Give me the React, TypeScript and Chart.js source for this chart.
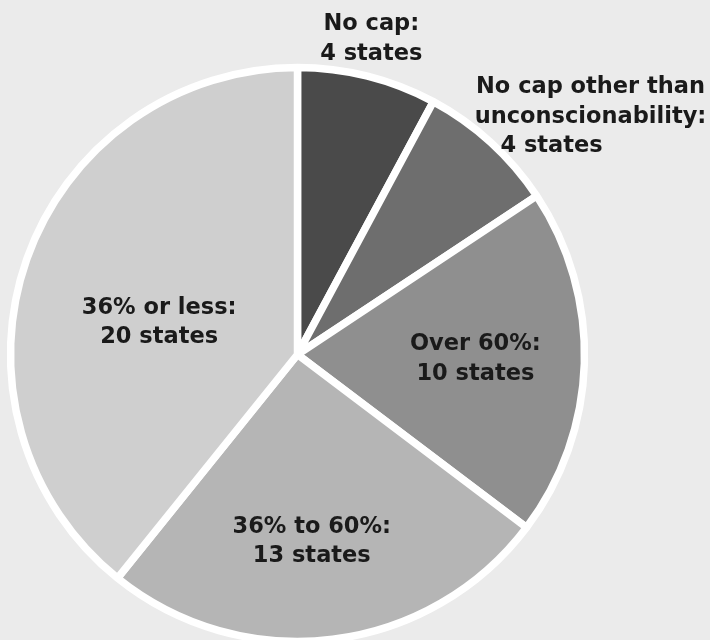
import React, { useEffect, useRef } from "react";
import { Chart, registerables } from "chart.js";

Chart.register(...registerables);

const categories = [
  "No cap",
  "No cap other than unconscionability",
  "Over 60%",
  "36% to 60%",
  "36% or less",
];
const stateCounts = [4, 4, 10, 13, 20];
const labelLines = [
  ["No cap:", "4 states"],
  ["No cap other than", "unconscionability:", "4 states"],
  ["Over 60%:", "10 states"],
  ["36% to 60%:", "13 states"],
  ["36% or less:", "20 states"],
];
const sliceColors = ["#4a4a4a", "#6e6e6e", "#8f8f8f", "#b5b5b5", "#cfcfcf"];

// label placement styles: radial fraction + pixel nudge, per-line x shifts
const labelStyle = [
  { f: 1.14, dx: -6, dy: 2, shifts: [0, 0] },
  { f: 1.2, dx: 61, dy: 17, shifts: [0, 0, -39] },
  { f: 0.627, dx: -2, dy: -1, shifts: [0, 0] },
  { f: 0.66, dx: -9, dy: -1, shifts: [0, 0] },
  { f: 0.5, dx: -3, dy: 16, shifts: [0, 0] },
];

const labelPlugin = {
  id: "sliceLabels",
  afterDatasetsDraw(chart: any) {
    const ctx = chart.ctx;
    const meta = chart.getDatasetMeta(0);
    ctx.save();
    ctx.font = "bold 22.5px 'DejaVu Sans'";
    ctx.fillStyle = "#1a1a1a";
    ctx.textAlign = "center";
    ctx.textBaseline = "middle";
    const lh = 29.5;
    meta.data.forEach((arc: any, i: number) => {
      const p = arc.getProps(["x", "y", "startAngle", "endAngle", "outerRadius"], true);
      const mid = (p.startAngle + p.endAngle) / 2;
      const st = labelStyle[i];
      const cx = p.x + Math.cos(mid) * p.outerRadius * st.f + st.dx;
      const cy = p.y + Math.sin(mid) * p.outerRadius * st.f + st.dy;
      const lines = labelLines[i];
      const top = cy - ((lines.length - 1) * lh) / 2;
      lines.forEach((t, j) => {
        ctx.fillText(t, cx + (st.shifts[j] || 0), top + j * lh);
      });
    });
    ctx.restore();
  },
};

export default function App() {
  const ref = useRef<HTMLCanvasElement>(null);
  useEffect(() => {
    if (!ref.current) return;
    const chart = new Chart(ref.current, {
      type: "pie",
      data: {
        labels: categories,
        datasets: [
          {
            data: stateCounts,
            backgroundColor: sliceColors,
            borderColor: "#ffffff",
            borderWidth: 7.5,
          },
        ],
      },
      options: {
        responsive: false,
        animation: false,
        radius: 287,
        layout: { padding: { left: 0, right: 115, top: 69, bottom: 0 } },
        plugins: {
          legend: { display: false },
          tooltip: { enabled: false },
        },
      } as any,
      plugins: [labelPlugin],
    });
    return () => chart.destroy();
  }, []);
  return (
    <div
      style={{
        position: "fixed",
        left: 0,
        top: 0,
        width: 710,
        height: 640,
        background: "#ebebeb",
      }}
    >
      <canvas ref={ref} width={710} height={640} style={{ display: "block" }} />
    </div>
  );
}
